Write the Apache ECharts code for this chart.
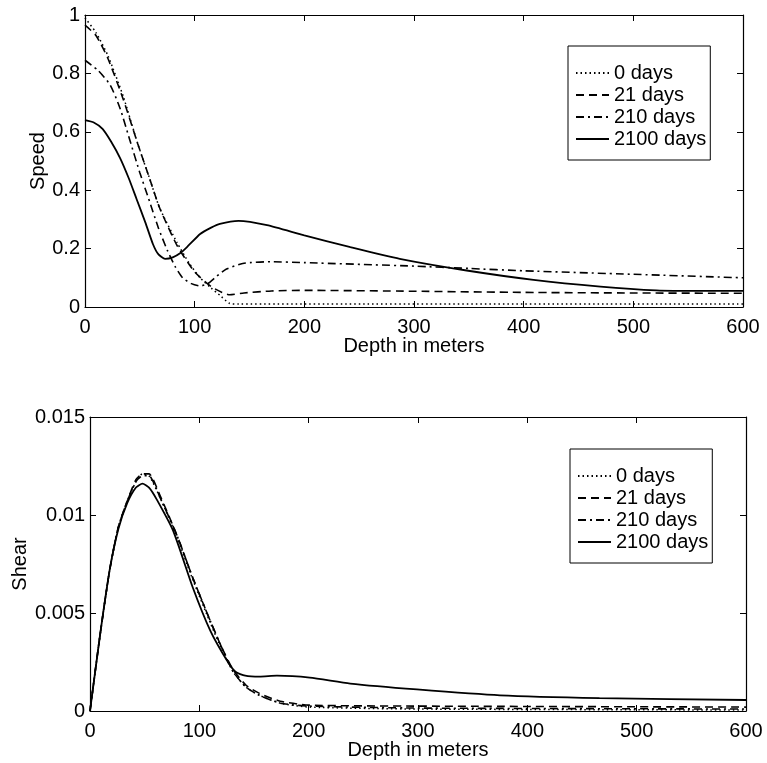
<!DOCTYPE html>
<html>
<head>
<meta charset="utf-8">
<script src="https://cdn.jsdelivr.net/npm/echarts@6/dist/echarts.min.js"></script>
<style>
html, body { margin: 0; padding: 0; background: #fff; }
#main { width: 767px; height: 763px; }
</style>
</head>
<body>
<div id="main"></div>
<script>
// legend names
var seriesNames = ['0 days', '21 days', '210 days', '2100 days'];

// Speed vs depth, [depth, speed]
var speed0 = [[0, 0.99], [10, 0.94], [21, 0.86], [35, 0.72], [48, 0.56], [58, 0.45], [68, 0.34], [84, 0.22],
    [95, 0.15], [105, 0.10], [115, 0.065], [123, 0.04], [132, 0.012], [140, 0.01], [600, 0.01]];
var speed21 = [[0, 0.965], [10, 0.93], [21, 0.85], [35, 0.71], [48, 0.56], [58, 0.45], [68, 0.34], [84, 0.21],
    [100, 0.12], [115, 0.07], [125, 0.05], [132, 0.042], [145, 0.048], [170, 0.055], [200, 0.057],
    [300, 0.054], [400, 0.05], [500, 0.048], [600, 0.047]];
var speed210 = [[0, 0.845], [12, 0.81], [23, 0.76], [32, 0.68], [41, 0.57], [50, 0.46], [59, 0.36], [67, 0.27],
    [75, 0.195], [82, 0.14], [89, 0.10], [97, 0.08], [105, 0.072], [112, 0.08], [120, 0.105], [129, 0.13],
    [145, 0.15], [170, 0.155], [200, 0.152], [300, 0.14], [350, 0.132], [400, 0.124], [500, 0.112], [600, 0.10]];
var speed2100 = [[0, 0.64], [8, 0.632], [16, 0.61], [24, 0.565], [32, 0.51], [40, 0.44], [47, 0.37], [55, 0.29],
    [62, 0.215], [67, 0.18], [73, 0.165], [80, 0.17], [87, 0.185], [93, 0.205], [105, 0.25], [115, 0.272],
    [123, 0.285], [140, 0.295], [166, 0.28], [200, 0.245], [242, 0.205], [287, 0.165], [348, 0.125],
    [409, 0.093], [470, 0.07], [521, 0.057], [560, 0.055], [600, 0.055]];

// Shear vs depth, [depth, shear]
var shear0 = [[0, 0], [9, 0.0038], [18, 0.0072], [26, 0.0094], [34, 0.0107], [42, 0.0117], [48, 0.0121],
    [54, 0.012], [64, 0.0109], [80, 0.0088], [94, 0.0067], [110, 0.0045], [120, 0.0032], [131, 0.002],
    [143, 0.0012], [155, 0.0008], [174, 0.0004], [200, 0.0002], [300, 0.0001], [600, 0.00005]];
var shear21 = [[0, 0], [9, 0.0038], [18, 0.0072], [26, 0.0094], [34, 0.0107], [42, 0.0118], [48, 0.0121],
    [54, 0.0121], [64, 0.011], [80, 0.0089], [94, 0.0068], [110, 0.0046], [120, 0.0033], [131, 0.0021],
    [143, 0.0013], [155, 0.0009], [174, 0.0005], [200, 0.0003], [300, 0.00025], [600, 0.0002]];
var shear210 = [[0, 0], [9, 0.0038], [18, 0.0072], [26, 0.0094], [34, 0.0107], [42, 0.0117], [48, 0.012],
    [54, 0.012], [64, 0.0109], [80, 0.0089], [94, 0.0068], [110, 0.0046], [120, 0.0033], [131, 0.002],
    [143, 0.0012], [155, 0.0008], [174, 0.0004], [200, 0.00025], [300, 0.00015], [600, 0.0001]];
var shear2100 = [[0, 0], [9, 0.0038], [18, 0.0072], [26, 0.0093], [34, 0.0106], [42, 0.0114], [48, 0.0116],
    [54, 0.0114], [61, 0.0108], [76, 0.0092], [94, 0.0063], [110, 0.0041], [125, 0.0026], [133, 0.002],
    [142, 0.0018], [155, 0.00175], [171, 0.0018], [201, 0.0017], [238, 0.0014], [299, 0.0011], [375, 0.0008],
    [466, 0.00066], [600, 0.00056]];

var font = 'Liberation Sans, Helvetica, Arial, sans-serif';
var lineStyles = [
    { type: [1.5, 3], width: 1.5 },
    { type: [8, 5], width: 1.6 },
    { type: [8, 4, 2, 4], width: 1.6 },
    { type: 'solid', width: 1.8 }
];

function xAx(grid, pos) {
    return {
        type: 'value', gridIndex: grid, position: pos, min: 0, max: 600, interval: 100,
        name: pos === 'bottom' ? 'Depth in meters' : '',
        nameLocation: 'middle', nameGap: 29, nameMoveOverlap: false,
        nameTextStyle: { color: '#000', fontSize: 20, fontFamily: font },
        axisLine: { show: true, onZero: false, lineStyle: { color: '#000', width: 1.2 } },
        axisTick: { show: true, inside: true, length: 6, lineStyle: { color: '#000' } },
        axisLabel: { show: pos === 'bottom', color: '#000', fontSize: 20, fontFamily: font, margin: 10 },
        splitLine: { show: false }
    };
}

function yAx(grid, pos, max, step, name, gap) {
    return {
        type: 'value', gridIndex: grid, position: pos, min: 0, max: max, interval: step,
        name: pos === 'left' ? name : '',
        nameLocation: 'middle', nameGap: gap, nameMoveOverlap: false,
        nameTextStyle: { color: '#000', fontSize: 20, fontFamily: font },
        axisLine: { show: true, onZero: false, lineStyle: { color: '#000', width: 1.2 } },
        axisTick: { show: true, inside: true, length: 6, lineStyle: { color: '#000' } },
        axisLabel: { show: pos === 'left', color: '#000', fontSize: 20, fontFamily: font, margin: 5 },
        splitLine: { show: false }
    };
}

function makeSeries(i, data, xi, yi) {
    return {
        name: seriesNames[i],
        type: 'line',
        xAxisIndex: xi,
        yAxisIndex: yi,
        data: data,
        showSymbol: false,
        symbol: 'none',
        smooth: 0.2,
        color: '#000',
        lineStyle: Object.assign({ color: '#000' }, lineStyles[i]),
        animation: false
    };
}

function legendAt(left, top) {
    return {
        orient: 'vertical', left: left, top: top,
        data: seriesNames,
        backgroundColor: '#fff',
        borderColor: '#000', borderWidth: 1,
        padding: [17, 4, 11, 7],
        itemWidth: 33, itemHeight: 14, itemGap: 2,
        itemStyle: { opacity: 0 },
        textStyle: { color: '#000', fontSize: 20, fontFamily: font },
        selectedMode: false
    };
}

var dom = document.getElementById('main');
var myChart = echarts.init(dom);
var option = {
    backgroundColor: '#fff',
    animation: false,
    grid: [
        { left: 85, right: 24, top: 15, height: 292 },
        { left: 90, right: 21, top: 417, height: 294 }
    ],
    xAxis: [xAx(0, 'bottom'), xAx(0, 'top'), xAx(1, 'bottom'), xAx(1, 'top')],
    yAxis: [
        yAx(0, 'left', 1, 0.2, 'Speed', 37),
        yAx(0, 'right', 1, 0.2, 'Speed', 37),
        yAx(1, 'left', 0.015, 0.005, 'Shear', 60),
        yAx(1, 'right', 0.015, 0.005, 'Shear', 60)
    ],
    legend: [legendAt(568, 46), legendAt(570, 449)],
    series: [
        makeSeries(0, speed0, 0, 0),
        makeSeries(1, speed21, 0, 0),
        makeSeries(2, speed210, 0, 0),
        makeSeries(3, speed2100, 0, 0),
        makeSeries(0, shear0, 2, 2),
        makeSeries(1, shear21, 2, 2),
        makeSeries(2, shear210, 2, 2),
        makeSeries(3, shear2100, 2, 2)
    ]
};

if (option && typeof option === 'object') {
    myChart.setOption(option, true);
}
</script>
</body>
</html>
